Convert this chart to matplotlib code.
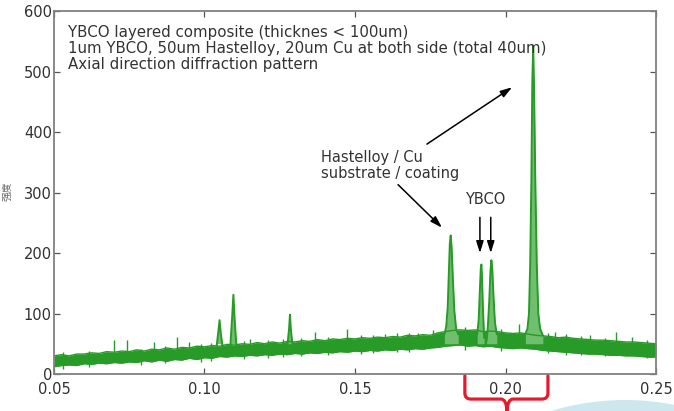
import numpy as np
import matplotlib
matplotlib.use('Agg')
import matplotlib.pyplot as plt
from matplotlib.path import Path
from matplotlib.patches import PathPatch, Ellipse
import matplotlib.transforms as mtransforms

# --- noisy background band (lower / upper edge of the green trace) ---
base_x = [0.0500, 0.0525, 0.0550, 0.0575, 0.0600, 0.0625, 0.0650, 0.0675, 0.0700, 0.0725,
          0.0750, 0.0775, 0.0800, 0.0825, 0.0850, 0.0875, 0.0900, 0.0925, 0.0950, 0.0975,
          0.1000, 0.1025, 0.1050, 0.1075, 0.1100, 0.1125, 0.1150, 0.1175, 0.1200, 0.1225,
          0.1250, 0.1275, 0.1300, 0.1325, 0.1350, 0.1375, 0.1400, 0.1425, 0.1450, 0.1475,
          0.1500, 0.1525, 0.1550, 0.1575, 0.1600, 0.1625, 0.1650, 0.1675, 0.1700, 0.1725,
          0.1750, 0.1775, 0.1800, 0.1825, 0.1850, 0.1875, 0.1900, 0.1925, 0.1950, 0.1975,
          0.2000, 0.2025, 0.2050, 0.2075, 0.2100, 0.2125, 0.2150, 0.2175, 0.2200, 0.2225,
          0.2250, 0.2275, 0.2300, 0.2325, 0.2350, 0.2375, 0.2400, 0.2425, 0.2450, 0.2475,
          0.2500]
base_lo = [12, 14, 15, 14, 17, 16, 18, 17, 19, 18,
           20, 19, 22, 20, 23, 21, 24, 23, 26, 24,
           27, 26, 29, 28, 30, 29, 31, 30, 32, 31,
           33, 32, 34, 33, 35, 34, 36, 35, 37, 36,
           38, 37, 39, 38, 40, 39, 41, 40, 42, 41,
           43, 44, 46, 47, 48, 46, 47, 45, 46, 44,
           43, 42, 43, 42, 41, 39, 38, 37, 36, 35,
           34, 33, 33, 32, 31, 31, 30, 30, 29, 28,
           28]
base_hi = [30, 32, 30, 33, 33, 35, 34, 37, 36, 38,
           37, 40, 38, 41, 40, 43, 41, 44, 43, 46,
           45, 47, 46, 49, 48, 50, 49, 52, 50, 53,
           51, 54, 53, 55, 54, 57, 55, 58, 57, 59,
           58, 60, 59, 61, 60, 62, 61, 64, 63, 65,
           64, 68, 70, 72, 73, 72, 73, 70, 71, 70,
           68, 67, 68, 66, 64, 63, 62, 60, 61, 59,
           58, 57, 56, 56, 55, 54, 53, 53, 52, 51,
           50]

# isolated noise spikes (x, bottom, top)
spike_x = [0.0530, 0.0615, 0.0700, 0.0743, 0.0790, 0.0833, 0.0870, 0.0910, 0.0950, 0.0990,
           0.1020, 0.1130, 0.1150, 0.1210, 0.1260, 0.1320, 0.1366, 0.1410, 0.1473, 0.1520,
           0.1560, 0.1600, 0.1640, 0.1680, 0.1710, 0.1760, 0.1865, 0.1985, 0.2045, 0.2140,
           0.2163, 0.2200, 0.2250, 0.2280, 0.2330, 0.2367, 0.2420, 0.2470]
spike_lo = [8, 12, 25, 26, 15, 30, 18, 32, 35, 20,
            22, 24, 40, 27, 28, 30, 45, 31, 48, 33,
            35, 50, 36, 37, 52, 55, 40, 38, 55, 35,
            50, 32, 31, 45, 29, 42, 40, 26]
spike_hi = [36, 38, 56, 56, 42, 53, 46, 61, 53, 50,
            52, 55, 58, 57, 58, 60, 70, 62, 75, 64,
            65, 66, 67, 68, 68, 72, 78, 74, 82, 68,
            70, 66, 63, 65, 60, 70, 62, 56]

# diffraction peaks
peak_a_x = [0.1040, 0.1046, 0.1050, 0.1054, 0.1060]
peak_a_y = [45, 70, 89, 68, 45]
peak_b_x = [0.1086, 0.1092, 0.1096, 0.1100, 0.1106]
peak_b_y = [47, 95, 131, 92, 47]
peak_c_x = [0.1276, 0.1281, 0.1284, 0.1287, 0.1292]
peak_c_y = [50, 75, 98, 73, 50]
hast_x = [0.1797, 0.1803, 0.1808, 0.1812, 0.1815, 0.1818, 0.1821, 0.1825, 0.1830, 0.1836, 0.1843]
hast_y = [66, 78, 110, 170, 215, 229, 210, 160, 105, 75, 66]
ybco1_x = [0.1906, 0.1911, 0.1915, 0.1918, 0.1920, 0.1922, 0.1925, 0.1929]
ybco1_y = [66, 90, 140, 175, 181, 160, 110, 60]
ybco2_x = [0.1937, 0.1941, 0.1946, 0.1950, 0.1953, 0.1956, 0.1960, 0.1965, 0.1971]
ybco2_y = [55, 75, 120, 170, 188, 175, 130, 85, 66]
main_x = [0.2066, 0.2073, 0.2078, 0.2082, 0.2086, 0.2089, 0.2092, 0.2095, 0.2099,
          0.2104, 0.2109, 0.2115, 0.2124]
main_y = [66, 75, 100, 180, 320, 480, 543, 470, 320, 180, 100, 75, 64]

x_ticks = [0.05, 0.10, 0.15, 0.20, 0.25]
x_ticklabels = ['0.05', '0.10', '0.15', '0.20', '0.25']
y_ticks = [0, 100, 200, 300, 400, 500, 600]

GREEN = '#279a27'
LIGHT = '#6fbf6f'

fig = plt.figure(figsize=(6.74, 4.11), dpi=100)
ax = fig.add_axes([0.0801, 0.0900, 0.8932, 0.8832])

ax.fill_between(base_x, base_lo, base_hi, color=GREEN, linewidth=0)
ax.plot(base_x, base_hi, color=GREEN, lw=1.0)
ax.plot(base_x, base_lo, color=GREEN, lw=1.0)
ax.vlines(spike_x, spike_lo, spike_hi, color=GREEN, lw=1.0)

peaks = [(peak_a_x, peak_a_y), (peak_b_x, peak_b_y), (peak_c_x, peak_c_y),
         (hast_x, hast_y), (ybco1_x, ybco1_y), (ybco2_x, ybco2_y), (main_x, main_y)]
for px, py in peaks:
    ax.fill_between(px, py, 50, color=LIGHT, linewidth=0)
    ax.plot(px, py, color=GREEN, lw=1.4)

ax.set_xlim(0.05, 0.25)
ax.set_ylim(0, 600)
ax.set_xticks(x_ticks)
ax.set_xticklabels(x_ticklabels)
ax.set_yticks(y_ticks)
ax.tick_params(direction='in', length=4, width=0.9, color='#555555',
               top=True, right=True, labelsize=10.5, labelcolor='#303030')
ax.tick_params(axis='x', pad=6)
ax.tick_params(axis='y', pad=1.5)
for sp in ax.spines.values():
    sp.set_color('#808080')
    sp.set_linewidth(1.3)

ax.text(0.023, 0.961,
        'YBCO layered composite (thicknes < 100um)\n'
        '1um YBCO, 50um Hastelloy, 20um Cu at both side (total 40um)\n'
        'Axial direction diffraction pattern',
        transform=ax.transAxes, ha='left', va='top', fontsize=10.8,
        color='#333333', linespacing=1.08)

ax.text(0.1387, 370, 'Hastelloy / Cu\nsubstrate / coating', ha='left', va='top',
        fontsize=10.5, color='#333333', linespacing=1.05)
ax.text(0.1934, 288, 'YBCO', ha='center', va='center', fontsize=10.5, color='#333333')

arrow = dict(arrowstyle='-|>,head_length=0.7,head_width=0.22', color='black', lw=1.1,
             shrinkA=0, shrinkB=0)
ax.annotate('', xy=(0.1789, 242), xytext=(0.1643, 313), arrowprops=arrow)
ax.annotate('', xy=(0.2022, 474), xytext=(0.1739, 380), arrowprops=arrow)
ax.annotate('', xy=(0.1915, 200), xytext=(0.1915, 259), arrowprops=arrow)
ax.annotate('', xy=(0.1951, 200), xytext=(0.1951, 259), arrowprops=arrow)

# y label (blurred CJK text at far left)
fig.text(0.011, 0.535, '强度', rotation=90, ha='center', va='center', fontsize=7,
         color='#666666', family=['Noto Sans CJK SC', 'DejaVu Sans'])

# red curly brace under the axis
trans = mtransforms.blended_transform_factory(ax.transData, ax.transAxes)
verts = [(0.1865, -0.005), (0.1865, -0.052), (0.1865, -0.069), (0.1885, -0.069),
         (0.1985, -0.069), (0.2003, -0.069), (0.2005, -0.102),
         (0.2007, -0.069), (0.2025, -0.069),
         (0.2121, -0.069), (0.2141, -0.069), (0.2141, -0.052), (0.2141, -0.005)]
codes = [Path.MOVETO, Path.LINETO, Path.CURVE3, Path.CURVE3,
         Path.LINETO, Path.CURVE3, Path.CURVE3,
         Path.CURVE3, Path.CURVE3,
         Path.LINETO, Path.CURVE3, Path.CURVE3, Path.LINETO]
ax.add_patch(PathPatch(Path(verts, codes), transform=trans, fill=False,
                       edgecolor='#e8192c', lw=2.3, clip_on=False, capstyle='round'))

# light cyan blob in the bottom-right corner
fig.patches.append(Ellipse((625 / 674, 1 - 655 / 411), 2 * 255 / 674, 2 * 255 / 411,
                           transform=fig.transFigure, facecolor='#cce8ee',
                           edgecolor='none', zorder=-1))

fig.savefig('out.png', dpi=100)
